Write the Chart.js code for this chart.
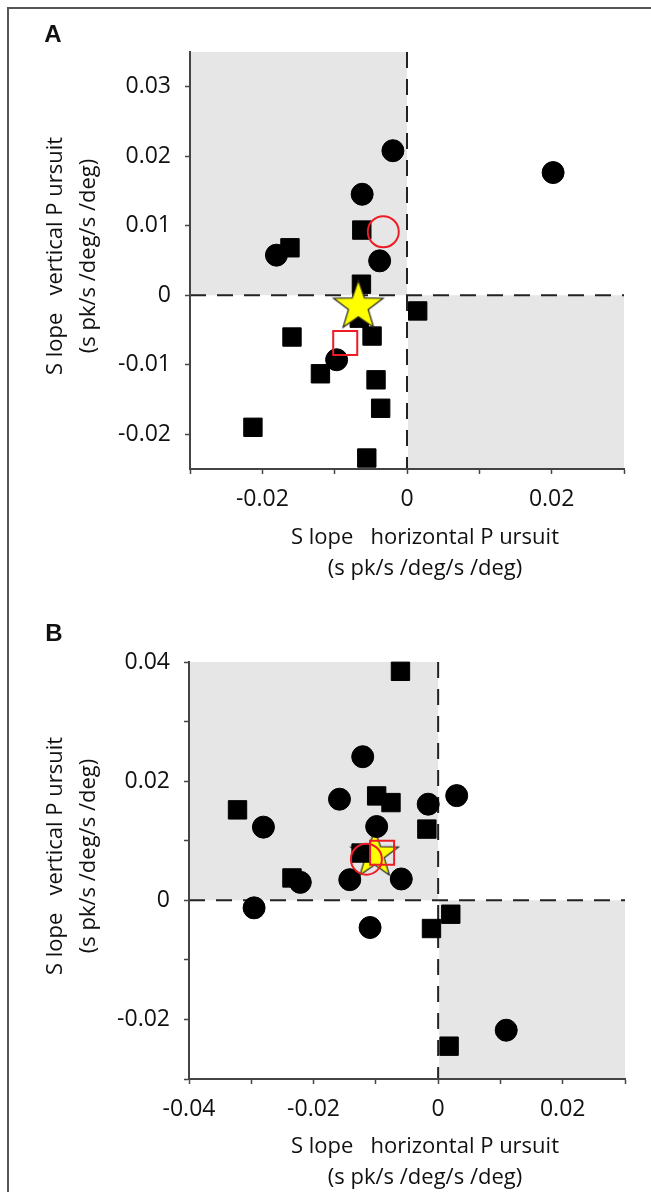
<!DOCTYPE html>
<html>
<head>
<meta charset="utf-8">
<script src="https://cdn.jsdelivr.net/npm/chart.js@4.4.1/dist/chart.umd.min.js"></script>
<style>
  html, body { margin: 0; padding: 0; background: #fff; }
  body { width: 651px; height: 1192px; position: relative; overflow: hidden; }
  .frame { position: absolute; left: 7px; top: 7px; width: 700px; height: 1250px;
           border-left: 2px solid #555; border-top: 2px solid #555; }
  canvas { position: absolute; left: 0; }
  #panelA { top: 0; }
  #panelB { top: 600px; }
</style>
</head>
<body>
<div class="frame"></div>
<canvas id="panelA" width="651" height="600"></canvas>
<canvas id="panelB" width="651" height="592"></canvas>
<script>
// ===== Panel A data =====
const aCircleX = [-0.00195, -0.0062, -0.01805, -0.00378, -0.00973, 0.0202];
const aCircleY = [0.0208, 0.01453, 0.00577, 0.00495, -0.00928, 0.01765];
const aSquareX = [-0.00625, -0.01618, -0.0063, -0.0066, 0.00148, -0.0159, -0.00483, -0.01197, -0.00428, -0.00364, -0.0213, -0.00556];
const aSquareY = [0.00938, 0.00683, 0.00159, -0.0033, -0.00226, -0.00601, -0.00587, -0.0113, -0.01217, -0.01626, -0.019, -0.02342];
const aRedCircle = [{ x: -0.00328, y: 0.00914 }];
const aRedSquare = [{ x: -0.00854, y: -0.00688 }];
const aStar = [{ x: -0.00673, y: -0.00159 }];
const aTicksX = [-0.03, -0.02, -0.01, 0, 0.01, 0.02, 0.03];
const aLabelsX = [-0.02, 0, 0.02];
const aTicksY = [-0.02, -0.01, 0, 0.01, 0.02, 0.03];
const aLabelsY = [-0.02, -0.01, 0, 0.01, 0.02, 0.03];

// ===== Panel B data =====
const bCircleX = [-0.01211, -0.01584, -0.0016, 0.00298, -0.02805, -0.00987, -0.02213, -0.01419, -0.00592, -0.01093, 0.01093, -0.02955];
const bCircleY = [0.0241, 0.01697, 0.01613, 0.01757, 0.01228, 0.01238, 0.00301, 0.00346, 0.00358, -0.00457, -0.02181, -0.00127];
const bSquareX = [-0.00605, -0.00987, -0.00757, -0.03221, -0.00181, -0.01237, -0.02347, -0.00107, 0.00203, 0.00176];
const bSquareY = [0.03844, 0.01752, 0.0164, 0.01518, 0.01195, 0.00793, 0.00375, -0.00474, -0.00234, -0.02449];
const bRedCircle = [{ x: -0.01152, y: 0.0069 }];
const bRedSquare = [{ x: -0.009, y: 0.00798 }];
const bStar = [{ x: -0.01019, y: 0.00765 }];
const bTicksX = [-0.04, -0.03, -0.02, -0.01, 0, 0.01, 0.02, 0.03];
const bLabelsX = [-0.04, -0.02, 0, 0.02];
const bTicksY = [-0.03, -0.02, -0.01, 0, 0.01, 0.02, 0.03, 0.04];
const bLabelsY = [-0.02, 0, 0.02, 0.04];

const xTitle = ['S lope   horizontal P ursuit', '(s pk/s /deg/s /deg)'];
const yTitle = ['S lope   vertical P ursuit', '(s pk/s /deg/s /deg)'];

const FONT = '"Open Sans", "DejaVu Sans", sans-serif';

function zip(xs, ys) {
  return xs.map((x, i) => ({ x: x, y: ys[i] }));
}

// yellow five-pointed star used as an image point style
function makeStar(r) {
  const c = document.createElement('canvas');
  const s = Math.ceil(r * 2 + 4);
  c.width = s; c.height = s;
  const g = c.getContext('2d');
  g.beginPath();
  for (let i = 0; i < 10; i++) {
    const rad = i % 2 === 0 ? r : r * 0.4;
    const a = -Math.PI / 2 + i * Math.PI / 5;
    g.lineTo(s / 2 + rad * Math.cos(a), s / 2 + rad * Math.sin(a));
  }
  g.closePath();
  g.fillStyle = '#ffff00';
  g.fill();
  g.strokeStyle = '#222';
  g.lineWidth = 1.2;
  g.stroke();
  return c;
}

// grey quadrants and dashed zero lines, drawn under the axes
const quadrants = {
  id: 'quadrants',
  beforeDraw(chart) {
    const { ctx, chartArea: a, scales: { x, y } } = chart;
    const x0 = x.getPixelForValue(0);
    const y0 = y.getPixelForValue(0);
    ctx.save();
    ctx.fillStyle = '#e6e6e6';
    ctx.fillRect(a.left, a.top, x0 - a.left, y0 - a.top);
    ctx.fillRect(x0 + 1, y0, a.right - x0 - 1, a.bottom - y0);
    ctx.strokeStyle = '#222';
    ctx.lineWidth = 2;
    ctx.setLineDash([16, 11]);
    ctx.beginPath(); ctx.moveTo(x0, a.top); ctx.lineTo(x0, a.bottom); ctx.stroke();
    ctx.beginPath(); ctx.moveTo(a.left, y0); ctx.lineTo(a.right, y0); ctx.stroke();
    ctx.restore();
  }
};

// panel letter and the two-line axis titles
const panelText = {
  id: 'panelText',
  afterDraw(chart, args, opts) {
    const ctx = chart.ctx;
    ctx.save();
    ctx.fillStyle = '#111';
    ctx.font = 'bold 24px "Liberation Sans", Arial, sans-serif';
    ctx.textAlign = 'center';
    ctx.textBaseline = 'middle';
    ctx.fillText(opts.letter, opts.letterX, opts.letterY);

    ctx.font = '22px ' + FONT;
    opts.xTitle.forEach((t, i) => ctx.fillText(t, opts.xTitleX, opts.xTitleY[i]));

    ctx.translate(0, opts.yTitleY);
    ctx.rotate(-Math.PI / 2);
    opts.yTitle.forEach((t, i) => ctx.fillText(t, 0, opts.yTitleX[i]));
    ctx.restore();
  }
};

function near(list, v) {
  return list.some(l => Math.abs(l - v) < 1e-9);
}

function axis(min, max, ticks, labels, fitSize, isX) {
  return {
    type: 'linear',
    min: min,
    max: max,
    afterBuildTicks: s => { s.ticks = ticks.map(v => ({ value: v })); },
    afterFit: s => { if (isX) s.height = fitSize; else s.width = fitSize; },
    ticks: {
      autoSkip: false,
      maxRotation: 0,
      padding: isX ? 12 : 14,
      color: '#111',
      font: { family: FONT, size: 23 },
      callback: v => near(labels, v) ? (Math.abs(v) < 1e-9 ? '0' : v.toFixed(2)) : ''
    },
    grid: { drawOnChartArea: false, tickLength: 5, tickColor: '#444', tickWidth: 1.5 },
    border: { color: '#444', width: 2 }
  };
}

function datasets(circles, squares, redCircle, redSquare, star, starR, starOrder) {
  return [
    { data: redSquare, order: 0, pointStyle: 'rect', pointRadius: 17,
      pointBackgroundColor: 'rgba(0,0,0,0)', pointBorderColor: '#ee1c24', pointBorderWidth: 2 },
    { data: redCircle, order: 1, pointStyle: 'circle', pointRadius: 15.5,
      pointBackgroundColor: 'rgba(0,0,0,0)', pointBorderColor: '#ee1c24', pointBorderWidth: 2 },
    { data: star, order: starOrder, pointStyle: makeStar(starR), pointRadius: starR },
    { data: circles, order: 3, pointStyle: 'circle', pointRadius: 11,
      pointBackgroundColor: '#000', pointBorderColor: '#000', pointBorderWidth: 1 },
    { data: squares, order: 4, pointStyle: 'rect', pointRadius: 13,
      pointBackgroundColor: '#000', pointBorderColor: '#000', pointBorderWidth: 1 }
  ];
}

function panel(id, cfg) {
  new Chart(document.getElementById(id), {
    type: 'scatter',
    data: { datasets: cfg.datasets.map(d => Object.assign({ showLine: false, clip: false }, d)) },
    options: {
      responsive: false,
      animation: false,
      devicePixelRatio: 1,
      events: [],
      layout: { padding: cfg.padding },
      plugins: {
        legend: { display: false },
        tooltip: { enabled: false },
        panelText: cfg.text
      },
      scales: { x: cfg.x, y: cfg.y }
    },
    plugins: [quadrants, panelText]
  });
}

// ===== Gráfico A =====
panel('panelA', {
  datasets: datasets(zip(aCircleX, aCircleY), zip(aSquareX, aSquareY), aRedCircle, aRedSquare, aStar, 26, 2),
  padding: { top: 52, right: 24, left: 0, bottom: 0 },
  x: axis(-0.03, 0.03, aTicksX, aLabelsX, 131, true),
  y: axis(-0.025, 0.035, aTicksY, aLabelsY, 190, false),
  text: { letter: 'A', letterX: 53, letterY: 35,
          xTitle: xTitle, xTitleX: 425, xTitleY: [538, 569],
          yTitle: yTitle, yTitleY: 256, yTitleX: [56, 89] }
});

// ===== Gráfico B =====
panel('panelB', {
  datasets: datasets(zip(bCircleX, bCircleY), zip(bSquareX, bSquareY), bRedCircle, bRedSquare, bStar, 25, 5),
  padding: { top: 62, right: 24.5, left: 0, bottom: 0 },
  x: axis(-0.04, 0.03, bTicksX, bLabelsX, 113, true),
  y: axis(-0.03, 0.04, bTicksY, bLabelsY, 189, false),
  text: { letter: 'B', letterX: 54, letterY: 34,
          xTitle: xTitle, xTitleX: 425, xTitleY: [547, 578],
          yTitle: yTitle, yTitleY: 256, yTitleX: [56, 89] }
});
</script>
</body>
</html>
